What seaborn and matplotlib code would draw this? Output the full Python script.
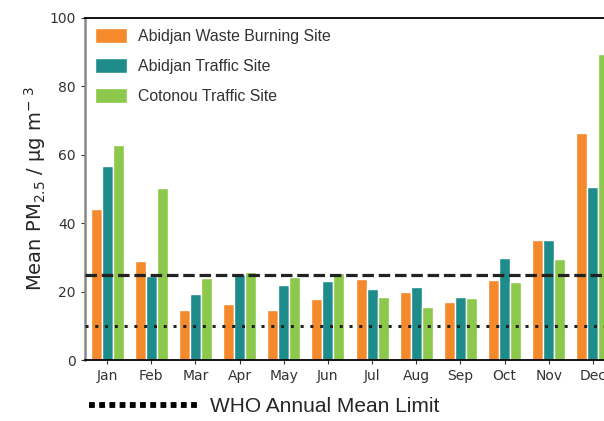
import numpy as np
import pandas as pd
import matplotlib
matplotlib.use("Agg")
import matplotlib.pyplot as plt
import seaborn as sns
from matplotlib.lines import Line2D

sns.set_style("ticks")

months = ["Jan", "Feb", "Mar", "Apr", "May", "Jun",
          "Jul", "Aug", "Sep", "Oct", "Nov", "Dec"]
sites = ["Abidjan Waste Burning Site", "Abidjan Traffic Site", "Cotonou Traffic Site"]
waste_burning = [44.2, 29.0, 14.6, 16.4, 14.5, 17.7, 23.6, 19.8, 17.1, 23.4, 35.0, 66.4]
abidjan_traffic = [56.7, 24.6, 19.3, 25.2, 21.8, 23.0, 20.9, 21.2, 18.3, 29.7, 35.0, 50.6]
cotonou_traffic = [62.9, 50.3, 24.0, 25.7, 24.3, 25.3, 18.3, 15.4, 18.0, 22.7, 29.4, 89.6]
who_annual = 10
who_daily = 25
site_colors = ["#F58A2C", "#1E8C8A", "#8CC84B"]

df = pd.DataFrame({
    "Month": months * 3,
    "Site": np.repeat(sites, len(months)),
    "PM": waste_burning + abidjan_traffic + cotonou_traffic,
})

fig = plt.figure(figsize=(6.04, 4.21), dpi=100)
ax = fig.add_axes([85 / 604, 61 / 421, 530 / 604, 342 / 421])

sns.barplot(data=df, x="Month", y="PM", hue="Site", palette=site_colors,
            width=0.75, edgecolor="white", linewidth=1.0, saturation=1,
            errorbar=None, ax=ax)

# WHO guideline lines
ax.axhline(who_daily, color="#222222", lw=2.3, ls=(0, (3.6, 1.5)), zorder=5)
ax.axhline(who_annual, color="#222222", lw=2.2, ls=(0, (1, 2.2)), zorder=5)

ax.set_xlim(-0.5, 11.5)
ax.set_ylim(0, 100)
ax.set_yticks([0, 20, 40, 60, 80, 100])
ax.set_xlabel("")
ax.set_ylabel(r"Mean PM$_{2.5}$ / $\mathregular{\mu}$g m$^{-\ 3}$", fontsize=14, labelpad=1)
ax.tick_params(axis="both", labelsize=10, colors="#333333", length=3)

ax.spines["left"].set_color("#888888")
ax.spines["left"].set_linewidth(1.8)
ax.spines["bottom"].set_color("black")
ax.spines["bottom"].set_linewidth(1.3)
ax.spines["top"].set_visible(True)
ax.spines["top"].set_color("black")
ax.spines["top"].set_linewidth(1.3)

leg = ax.legend(loc="upper left", frameon=False,
                prop={"family": "Liberation Sans", "size": 11.4},
                handlelength=2.0, handleheight=1.05, labelspacing=0.9,
                handletextpad=0.7, borderaxespad=0.35, borderpad=0.3)
for t in leg.get_texts():
    t.set_color("#333333")

who_handle = Line2D([], [], color="black", lw=4.2, ls=(0, (1, 0.75)),
                    dash_capstyle="butt")
fig.legend(handles=[who_handle], labels=["WHO Annual Mean Limit"],
           loc="lower left", bbox_to_anchor=(72 / 604, -12 / 421), frameon=False,
           prop={"family": "Liberation Sans", "size": 15},
           handlelength=5.2, handletextpad=0.6, borderpad=0.3)

fig.savefig("out.png", dpi=100)
